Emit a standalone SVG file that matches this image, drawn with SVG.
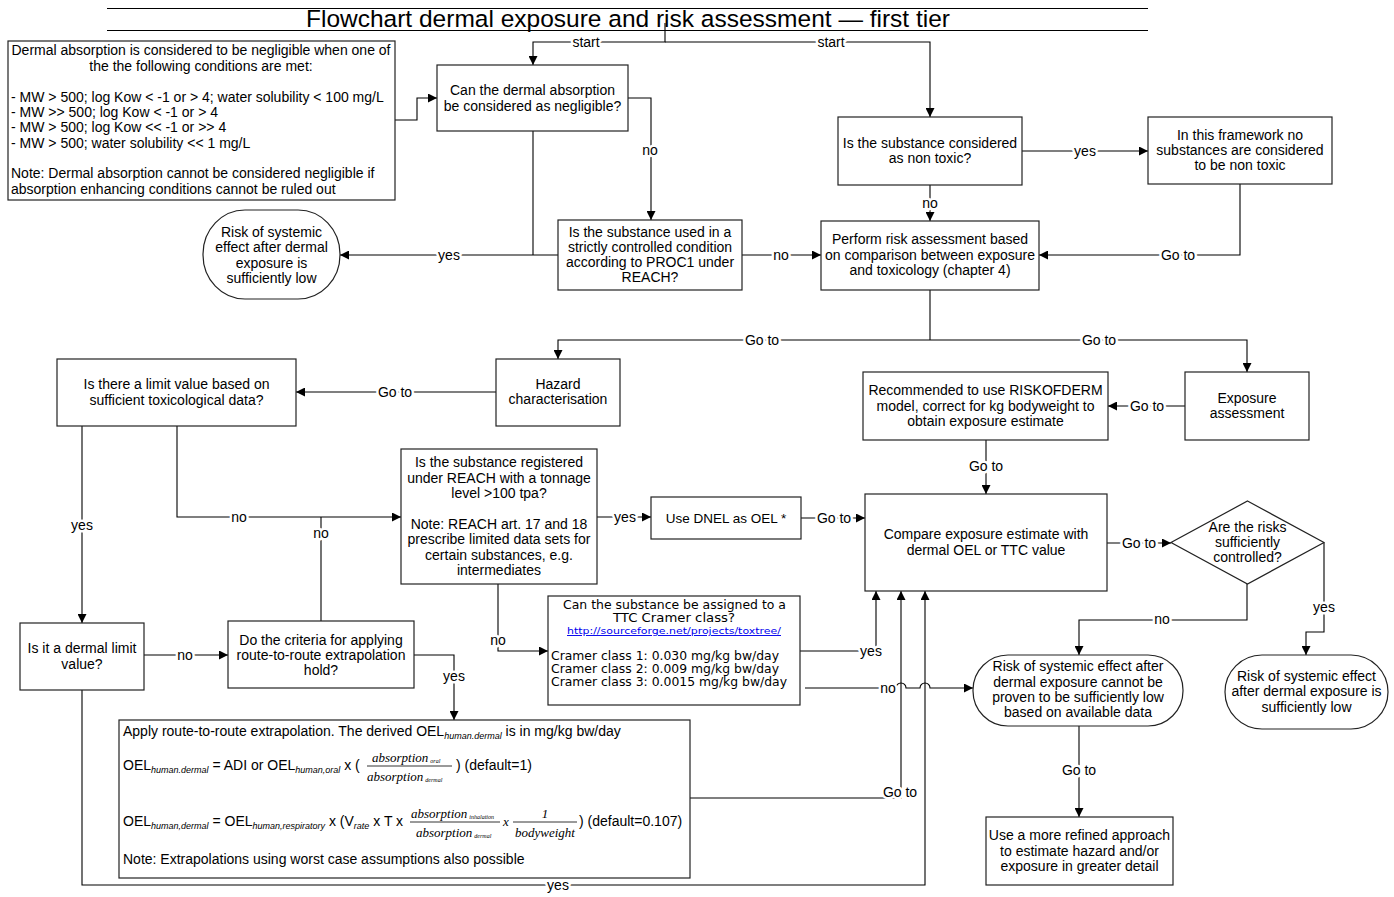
<svg xmlns="http://www.w3.org/2000/svg" width="1394" height="897" viewBox="0 0 1394 897">
<defs>
<style>
.box{fill:#fff;stroke:#222;stroke-width:1.2}
.t{font-family:"Liberation Sans",Arial,sans-serif;font-size:14px;fill:#000;text-anchor:middle}
.tl{font-family:"Liberation Sans",Arial,sans-serif;font-size:14px;fill:#000}
.v{font-family:"DejaVu Sans",Verdana,sans-serif;font-size:11.5px;fill:#000}
.sub{font-family:"Liberation Sans",Arial,sans-serif;font-size:9px;font-style:italic}
.ser{font-family:"Liberation Serif","Times New Roman",serif;font-size:13px;font-style:italic;fill:#000}
.ssub{font-family:"Liberation Serif","Times New Roman",serif;font-size:6px;font-style:italic}
.c{fill:none;stroke:#000;stroke-width:1.1}
.a{marker-end:url(#arr)}
.lbl{font-family:"Liberation Sans",Arial,sans-serif;font-size:14px;fill:#000;text-anchor:middle;paint-order:stroke;stroke:#fff;stroke-width:5px;stroke-linejoin:round}
.bar{stroke:#000;stroke-width:0.8}
</style>
<marker id="arr" viewBox="0 0 10 10" refX="10" refY="5" markerWidth="9" markerHeight="9" markerUnits="userSpaceOnUse" orient="auto">
<path d="M0,0 L10,5 L0,10 z" fill="#000"/>
</marker>
</defs>
<rect width="1394" height="897" fill="#fff"/>

<g id="title">
<line x1="107" y1="8.5" x2="1148" y2="8.5" stroke="#000" stroke-width="1"/>
<line x1="107" y1="30.5" x2="1148" y2="30.5" stroke="#000" stroke-width="1"/>
<text x="628" y="27" class="t" style="font-size:24.5px">Flowchart dermal exposure and risk assessment — first tier</text>
</g>

<g id="connectors">
<path class="c a" d="M665,23 V42 H533 V65"/>
<path class="c a" d="M665,42 H930 V117"/>
<path class="c a" d="M395,120 H417 V98 H437"/>
<path class="c a" d="M628,98 H651 V220"/>
<path class="c" d="M533,131 V255"/>
<path class="c a" d="M558,255 H340"/>
<path class="c a" d="M742,255 H821"/>
<path class="c a" d="M1022,151 H1148"/>
<path class="c a" d="M930,185 V221"/>
<path class="c a" d="M1240,184 V255 H1039"/>
<path class="c" d="M930,290 V340"/>
<path class="c a" d="M930,340 H558 V359"/>
<path class="c a" d="M930,340 H1247 V372"/>
<path class="c a" d="M496,392 H296"/>
<path class="c a" d="M1185,406 H1108"/>
<path class="c a" d="M986,440 V494"/>
<path class="c a" d="M177,426 V517 H401"/>
<path class="c" d="M321,621 V517"/>
<path class="c a" d="M82,426 V623"/>
<path class="c a" d="M597,517 H651"/>
<path class="c a" d="M801,518 H865"/>
<path class="c a" d="M498,584 V651 H548"/>
<path class="c a" d="M800,651 H876 V591"/>
<path class="c a" d="M805,688 H896 A5,5 0 0 1 906,688 H920 A5,5 0 0 1 930,688 H973"/>
<path class="c a" d="M144,655 H228"/>
<path class="c a" d="M414,655 H454 V720"/>
<path class="c a" d="M690,798 H901 V591"/>
<path class="c a" d="M82,690 V885 H925 V591"/>
<path class="c a" d="M1107,543 H1171"/>
<path class="c a" d="M1247,584 V620 H1079 V655"/>
<path class="c a" d="M1324,543 V632 H1306 V655"/>
<path class="c a" d="M1079,726 V817"/>
<text class="lbl" x="586" y="47">start</text>
<text class="lbl" x="831" y="47">start</text>
<text class="lbl" x="650" y="155">no</text>
<text class="lbl" x="449" y="260">yes</text>
<text class="lbl" x="781" y="260">no</text>
<text class="lbl" x="1085" y="156">yes</text>
<text class="lbl" x="930" y="208">no</text>
<text class="lbl" x="1178" y="260">Go to</text>
<text class="lbl" x="762" y="345">Go to</text>
<text class="lbl" x="1099" y="345">Go to</text>
<text class="lbl" x="395" y="397">Go to</text>
<text class="lbl" x="1147" y="411">Go to</text>
<text class="lbl" x="986" y="471">Go to</text>
<text class="lbl" x="239" y="522">no</text>
<text class="lbl" x="321" y="538">no</text>
<text class="lbl" x="82" y="530">yes</text>
<text class="lbl" x="625" y="522">yes</text>
<text class="lbl" x="834" y="523">Go to</text>
<text class="lbl" x="498" y="645">no</text>
<text class="lbl" x="871" y="656">yes</text>
<text class="lbl" x="888" y="693">no</text>
<text class="lbl" x="185" y="660">no</text>
<text class="lbl" x="454" y="681">yes</text>
<text class="lbl" x="900" y="797">Go to</text>
<text class="lbl" x="558" y="890">yes</text>
<text class="lbl" x="1139" y="548">Go to</text>
<text class="lbl" x="1162" y="624">no</text>
<text class="lbl" x="1324" y="612">yes</text>
<text class="lbl" x="1079" y="775">Go to</text>
</g>

<g id="note-negligible">
<rect class="box" x="8" y="41" width="387" height="159"/>
<text class="t" x="201" y="55">Dermal absorption is considered to be negligible when one of</text>
<text class="t" x="201" y="71">the the following conditions are met:</text>
<text class="tl" x="11" y="102">- MW &gt; 500; log Kow &lt; -1 or &gt; 4; water solubility &lt; 100 mg/L</text>
<text class="tl" x="11" y="117">- MW &gt;&gt; 500; log Kow &lt; -1 or &gt; 4</text>
<text class="tl" x="11" y="132">- MW &gt; 500; log Kow &lt;&lt; -1 or &gt;&gt; 4</text>
<text class="tl" x="11" y="148">- MW &gt; 500; water solubility &lt;&lt; 1 mg/L</text>
<text class="tl" x="11" y="178">Note: Dermal absorption cannot be considered negligible if</text>
<text class="tl" x="11" y="194">absorption enhancing conditions cannot be ruled out</text>
</g>

<g id="q-negligible">
<rect class="box" x="437" y="65" width="191" height="66"/>
<text class="t" x="532.5" y="95">Can the dermal absorption</text>
<text class="t" x="532.5" y="111">be considered as negligible?</text>
</g>

<g id="end-low-1">
<rect class="box" x="203" y="210" width="137" height="89" rx="42" ry="44"/>
<text class="t" x="271.5" y="237">Risk of systemic</text>
<text class="t" x="271.5" y="252">effect after dermal</text>
<text class="t" x="271.5" y="268">exposure is</text>
<text class="t" x="271.5" y="283">sufficiently low</text>
</g>

<g id="q-proc1">
<rect class="box" x="558" y="220" width="184" height="70"/>
<text class="t" x="650" y="237">Is the substance used in a</text>
<text class="t" x="650" y="252">strictly controlled condition</text>
<text class="t" x="650" y="267">according to PROC1 under</text>
<text class="t" x="650" y="282">REACH?</text>
</g>

<g id="q-nontoxic">
<rect class="box" x="838" y="117" width="184" height="68"/>
<text class="t" x="930" y="148">Is the substance considered</text>
<text class="t" x="930" y="163">as non toxic?</text>
</g>

<g id="no-nontoxic">
<rect class="box" x="1148" y="117" width="184" height="67"/>
<text class="t" x="1240" y="140">In this framework no</text>
<text class="t" x="1240" y="155">substances are considered</text>
<text class="t" x="1240" y="170">to be non toxic</text>
</g>

<g id="risk-assessment">
<rect class="box" x="821" y="221" width="218" height="69"/>
<text class="t" x="930" y="244">Perform risk assessment based</text>
<text class="t" x="930" y="260">on comparison between exposure</text>
<text class="t" x="930" y="275">and toxicology (chapter 4)</text>
</g>

<g id="hazard">
<rect class="box" x="496" y="359" width="124" height="67"/>
<text class="t" x="558" y="389">Hazard</text>
<text class="t" x="558" y="404">characterisation</text>
</g>

<g id="q-limit">
<rect class="box" x="57" y="359" width="239" height="67"/>
<text class="t" x="176.5" y="389">Is there a limit value based on</text>
<text class="t" x="176.5" y="405">sufficient toxicological data?</text>
</g>

<g id="riskofderm">
<rect class="box" x="863" y="372" width="245" height="68"/>
<text class="t" x="985.5" y="395">Recommended to use RISKOFDERM</text>
<text class="t" x="985.5" y="411">model, correct for kg bodyweight to</text>
<text class="t" x="985.5" y="426">obtain exposure estimate</text>
</g>

<g id="exposure">
<rect class="box" x="1185" y="372" width="124" height="68"/>
<text class="t" x="1247" y="403">Exposure</text>
<text class="t" x="1247" y="418">assessment</text>
</g>

<g id="q-reach">
<rect class="box" x="401" y="449" width="196" height="135"/>
<text class="t" x="499" y="467">Is the substance registered</text>
<text class="t" x="499" y="483">under REACH with a tonnage</text>
<text class="t" x="499" y="498">level &gt;100 tpa?</text>
<text class="t" x="499" y="529">Note: REACH art. 17 and 18</text>
<text class="t" x="499" y="544">prescribe limited data sets for</text>
<text class="t" x="499" y="560">certain substances, e.g.</text>
<text class="t" x="499" y="575">intermediates</text>
</g>

<g id="dnel">
<rect class="box" x="651" y="497" width="150" height="42"/>
<text class="t" x="726" y="523" style="font-size:13.5px">Use DNEL as OEL *</text>
</g>

<g id="compare">
<rect class="box" x="865" y="494" width="242" height="97"/>
<text class="t" x="986" y="539">Compare exposure estimate with</text>
<text class="t" x="986" y="555">dermal OEL or TTC value</text>
</g>

<g id="q-controlled">
<polygon class="box" points="1247.5,501 1324,542.5 1247.5,584 1171,542.5"/>
<text class="t" x="1247.5" y="532">Are the risks</text>
<text class="t" x="1247.5" y="547">sufficiently</text>
<text class="t" x="1247.5" y="562">controlled?</text>
</g>

<g id="q-ttc">
<rect class="box" x="548" y="596" width="252" height="109"/>
<text class="v" x="563" y="609" textLength="223" lengthAdjust="spacingAndGlyphs">Can the substance be assigned to a</text>
<text class="v" x="613" y="622" textLength="122" lengthAdjust="spacingAndGlyphs">TTC Cramer class?</text>
<text class="v" x="567" y="634" textLength="214" lengthAdjust="spacingAndGlyphs" style="font-size:9.5px;fill:#0000ee;text-decoration:underline">http://sourceforge.net/projects/toxtree/</text>
<text class="v" x="551" y="660" textLength="228" lengthAdjust="spacingAndGlyphs">Cramer class 1: 0.030 mg/kg bw/day</text>
<text class="v" x="551" y="673" textLength="228" lengthAdjust="spacingAndGlyphs">Cramer class 2: 0.009 mg/kg bw/day</text>
<text class="v" x="551" y="686" textLength="236" lengthAdjust="spacingAndGlyphs">Cramer class 3: 0.0015 mg/kg bw/day</text>
</g>

<g id="q-dermal-limit">
<rect class="box" x="20" y="623" width="124" height="67"/>
<text class="t" x="82" y="653">Is it a dermal limit</text>
<text class="t" x="82" y="669">value?</text>
</g>

<g id="q-route">
<rect class="box" x="228" y="621" width="186" height="67"/>
<text class="t" x="321" y="645">Do the criteria for applying</text>
<text class="t" x="321" y="660">route-to-route extrapolation</text>
<text class="t" x="321" y="675">hold?</text>
</g>

<g id="extrapolation">
<rect class="box" x="119" y="720" width="571" height="158"/>
<text class="tl" x="123" y="736">Apply route-to-route extrapolation. The derived OEL<tspan class="sub" dy="3">human.dermal</tspan><tspan dy="-3"> is in mg/kg bw/day</tspan></text>
<text class="tl" x="123" y="770">OEL<tspan class="sub" dy="3">human.dermal</tspan><tspan dy="-3"> = ADI or OEL</tspan><tspan class="sub" dy="3">human,oral</tspan><tspan dy="-3">  x (</tspan></text>
<text class="ser" x="372" y="762">absorption<tspan class="ssub" dx="2" dy="1">oral</tspan></text>
<line class="bar" x1="367" y1="766" x2="452" y2="766"/>
<text class="ser" x="367" y="781">absorption<tspan class="ssub" dx="2" dy="1">dermal</tspan></text>
<text class="tl" x="456" y="770">) (default=1)</text>
<text class="tl" x="123" y="826">OEL<tspan class="sub" dy="3">human,dermal</tspan><tspan dy="-3"> = OEL</tspan><tspan class="sub" dy="3">human,respiratory</tspan><tspan dy="-3"> x (V</tspan><tspan class="sub" dy="3">rate</tspan><tspan dy="-3"> x T x</tspan></text>
<text class="ser" x="411" y="818">absorption<tspan class="ssub" dx="2" dy="1">inhalation</tspan></text>
<line class="bar" x1="410" y1="822" x2="500" y2="822"/>
<text class="ser" x="416" y="837">absorption<tspan class="ssub" dx="2" dy="1">dermal</tspan></text>
<text class="ser" x="503" y="826">x</text>
<text class="ser" x="545" y="818" text-anchor="middle">1</text>
<line class="bar" x1="513" y1="822" x2="577" y2="822"/>
<text class="ser" x="545" y="837" text-anchor="middle">bodyweight</text>
<text class="tl" x="579" y="826">) (default=0.107)</text>
<text class="tl" x="123" y="864">Note: Extrapolations using worst case assumptions also possible</text>
</g>

<g id="end-not-proven">
<rect class="box" x="973" y="655" width="210" height="71" rx="35" ry="35"/>
<text class="t" x="1078" y="671">Risk of systemic effect after</text>
<text class="t" x="1078" y="687">dermal exposure cannot be</text>
<text class="t" x="1078" y="702">proven to be sufficiently low</text>
<text class="t" x="1078" y="717">based on available data</text>
</g>

<g id="end-low-2">
<rect class="box" x="1225" y="655" width="163" height="74" rx="37" ry="37"/>
<text class="t" x="1306.5" y="681">Risk of systemic effect</text>
<text class="t" x="1306.5" y="696">after dermal exposure is</text>
<text class="t" x="1306.5" y="712">sufficiently low</text>
</g>

<g id="refined">
<rect class="box" x="986" y="817" width="187" height="68"/>
<text class="t" x="1079.5" y="840">Use a more refined approach</text>
<text class="t" x="1079.5" y="856">to estimate hazard and/or</text>
<text class="t" x="1079.5" y="871">exposure in greater detail</text>
</g>
</svg>
